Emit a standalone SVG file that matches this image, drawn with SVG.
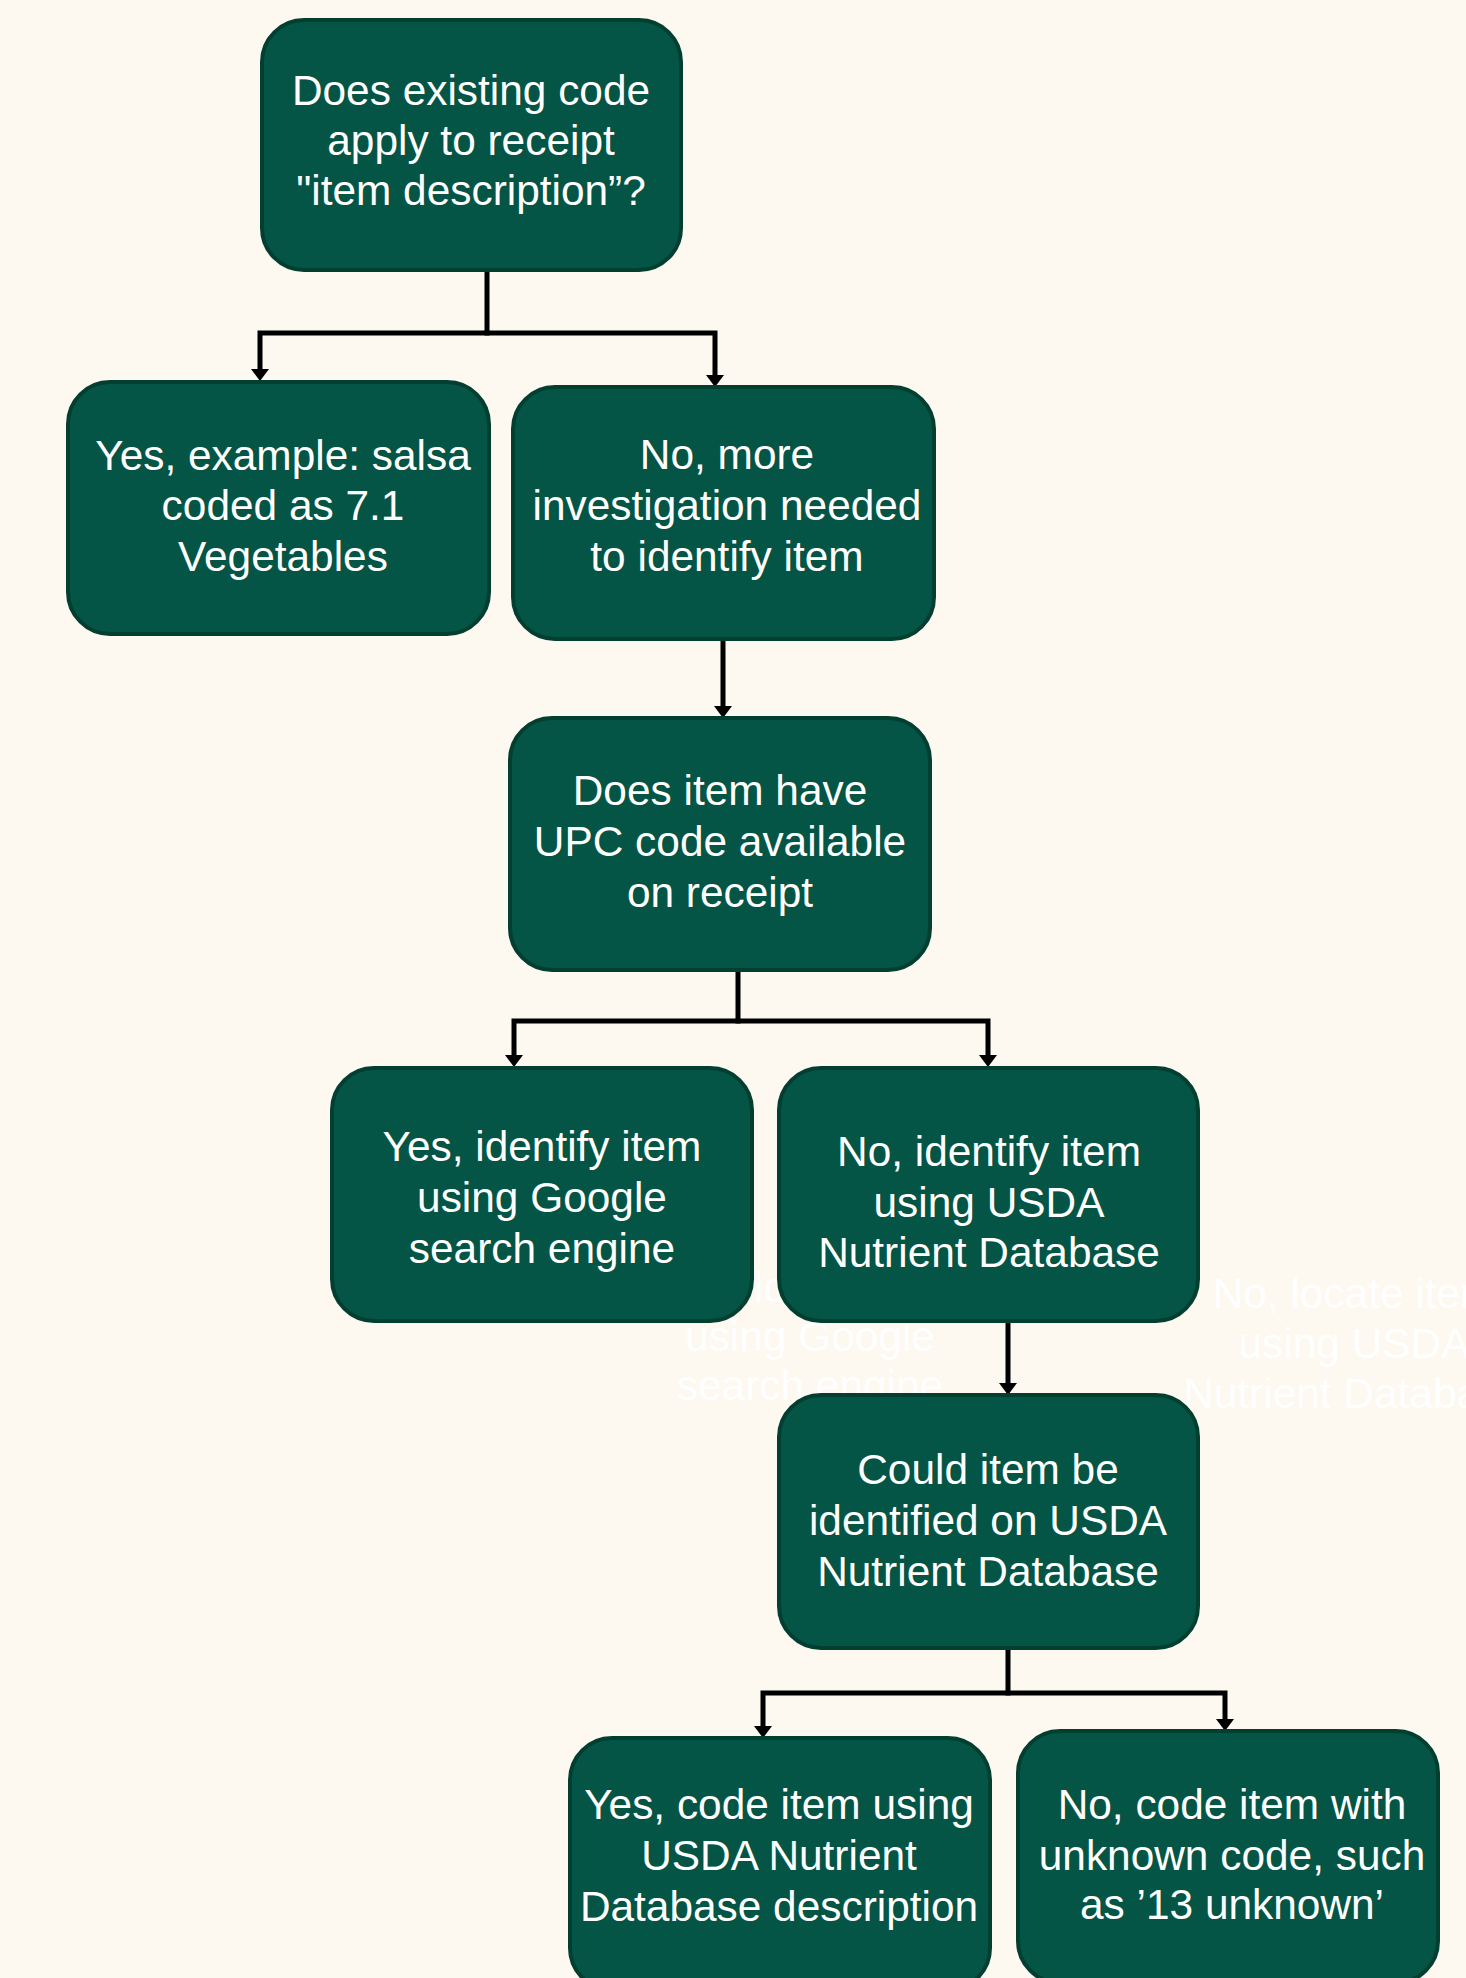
<svg xmlns="http://www.w3.org/2000/svg" width="1466" height="1978" viewBox="0 0 1466 1978">
<style>
.node rect{fill:#045545;stroke:#033f31;stroke-width:4}
.node text,.ghost text{font-family:"Liberation Sans",Arial,sans-serif;font-size:42.4px;text-anchor:middle}
.node text{fill:#ffffff}
.ghost text{fill:#ffffff}
.conn path{fill:none;stroke:#000000;stroke-width:5;stroke-linejoin:miter;stroke-linecap:square}
</style>
<defs>
<marker id="arrow" markerUnits="userSpaceOnUse" markerWidth="13" markerHeight="18" refX="1" refY="9" orient="auto">
<path d="M0,0 L12,9 L0,18 z" fill="#000000"/>
</marker>
</defs>
<rect x="0" y="0" width="1466" height="1978" fill="#fdf8f0"/>
<g class="ghost">
<text x="810" y="1302">Yes, locate item</text>
<text x="810" y="1351">using Google</text>
<text x="810" y="1400">search engine</text>
<text x="1354" y="1308">No, locate item</text>
<text x="1354" y="1358">using USDA</text>
<text x="1354" y="1408">Nutrient Database</text>
</g>
<g class="conn">
<path d="M487 271 V333 H260 V370" marker-end="url(#arrow)"/>
<path d="M487 333 H715 V376" marker-end="url(#arrow)"/>
<path d="M723 641 V707" marker-end="url(#arrow)"/>
<path d="M738 972 V1021 H514 V1056" marker-end="url(#arrow)"/>
<path d="M738 1021 H988 V1056" marker-end="url(#arrow)"/>
<path d="M1008 1323 V1384" marker-end="url(#arrow)"/>
<path d="M1008 1650 V1693 H763 V1727" marker-end="url(#arrow)"/>
<path d="M1008 1693 H1225 V1720" marker-end="url(#arrow)"/>
</g>
<g id="n1" class="node">
<rect x="262" y="20" width="419" height="250" rx="42"/>
<text x="471" y="105">Does existing code</text>
<text x="471" y="155">apply to receipt</text>
<text x="471" y="205">"item description”?</text>
</g>
<g id="n2" class="node">
<rect x="68" y="382" width="421" height="252" rx="42"/>
<text x="283" y="470">Yes, example: salsa</text>
<text x="283" y="520">coded as 7.1</text>
<text x="283" y="571">Vegetables</text>
</g>
<g id="n3" class="node">
<rect x="513" y="387" width="421" height="252" rx="42"/>
<text x="727" y="469">No, more</text>
<text x="727" y="520">investigation needed</text>
<text x="727" y="571">to identify item</text>
</g>
<g id="n4" class="node">
<rect x="510" y="718" width="420" height="252" rx="42"/>
<text x="720" y="805">Does item have</text>
<text x="720" y="856">UPC code available</text>
<text x="720" y="907">on receipt</text>
</g>
<g id="n5" class="node">
<rect x="332" y="1068" width="420" height="253" rx="42"/>
<text x="542" y="1161">Yes, identify item</text>
<text x="542" y="1212">using Google</text>
<text x="542" y="1263">search engine</text>
</g>
<g id="n6" class="node">
<rect x="779" y="1068" width="419" height="253" rx="42"/>
<text x="989" y="1166">No, identify item</text>
<text x="989" y="1217">using USDA</text>
<text x="989" y="1267">Nutrient Database</text>
</g>
<g id="n7" class="node">
<rect x="779" y="1395" width="419" height="253" rx="42"/>
<text x="988" y="1484">Could item be</text>
<text x="988" y="1535">identified on USDA</text>
<text x="988" y="1586">Nutrient Database</text>
</g>
<g id="n8" class="node">
<rect x="570" y="1738" width="420" height="252" rx="42"/>
<text x="779" y="1819">Yes, code item using</text>
<text x="779" y="1870">USDA Nutrient</text>
<text x="779" y="1921">Database description</text>
</g>
<g id="n9" class="node">
<rect x="1018" y="1731" width="420" height="252" rx="42"/>
<text x="1232" y="1819">No, code item with</text>
<text x="1232" y="1870">unknown code, such</text>
<text x="1232" y="1919">as ’13 unknown’</text>
</g>
</svg>
